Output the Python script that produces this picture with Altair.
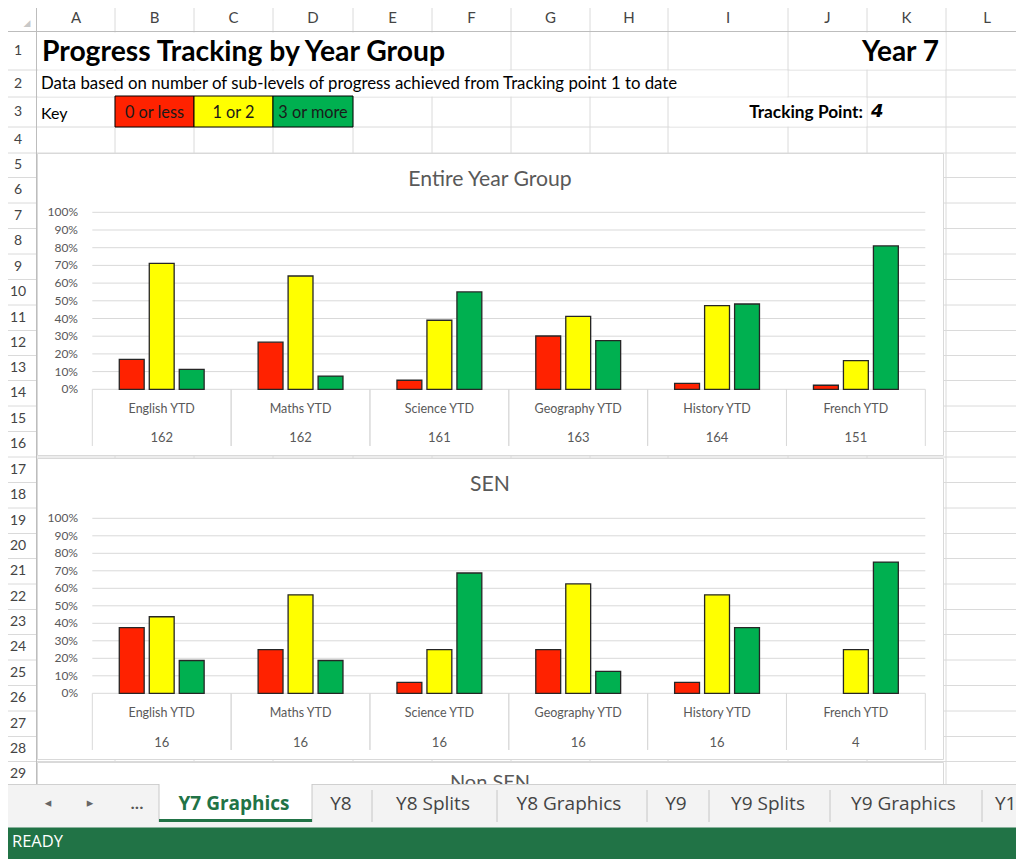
import altair as alt
import pandas as pd

# ---------------- data ----------------
subjects = ["English YTD", "Maths YTD", "Science YTD", "Geography YTD", "History YTD", "French YTD"]
categories = ["0 or less", "1 or 2", "3 or more"]
cat_colors = ["#FF2200", "#FFFF00", "#00B050"]

entire_low = [0.169, 0.266, 0.051, 0.301, 0.034, 0.023]
entire_mid = [0.712, 0.640, 0.390, 0.412, 0.473, 0.162]
entire_high = [0.113, 0.075, 0.550, 0.275, 0.482, 0.810]
entire_n = [162, 162, 161, 163, 164, 151]

sen_low = [0.375, 0.25, 0.0625, 0.25, 0.0625, 0.0]
sen_mid = [0.4375, 0.5625, 0.25, 0.625, 0.5625, 0.25]
sen_high = [0.1875, 0.1875, 0.6875, 0.125, 0.375, 0.75]
sen_n = [16, 16, 16, 16, 16, 4]

percent_ticks = [0.0, 0.1, 0.2, 0.3, 0.4, 0.5, 0.6, 0.7, 0.8, 0.9, 1.0]
column_letters = ["A", "B", "C", "D", "E", "F", "G", "H", "I", "J", "K", "L"]
row_numbers = list(range(1, 30))
tab_names = ["Y7 Graphics", "Y8", "Y8 Splits", "Y8 Graphics", "Y9", "Y9 Splits", "Y9 Graphics", "Y1"]

# ---------------- layout (screen pixels of the sheet) ----------------
M = 8  # page margin
FONT = "Lato"
UI_FONT = "Open Sans"
W, H = 1008, 851

col_edges = [37, 115, 194, 273, 353, 432, 511, 590, 668, 788, 867, 946, 1028]
row_centers = [51, 83.5, 112, 140, 165, 190, 216, 241, 267, 292, 318, 343, 368, 393, 419,
               444, 470, 495, 521, 546, 571, 597, 622, 647, 673, 698, 724, 749, 774]
row_edges = [31.5, 70, 97, 127, 153]
for i in range(4, 28):
    row_edges.append((row_centers[i] + row_centers[i + 1]) / 2)
row_edges.append(787)

X0, X1 = 92.3, 925.3  # category axis extent


def texts(items, size, color, weight="normal", align="center", font=FONT, style="normal"):
    df = pd.DataFrame([(x - M, y - M, s) for x, y, s in items], columns=["px", "py", "label"])
    return alt.Chart(df).mark_text(
        fontSize=size, color=color, fontWeight=weight, align=align, baseline="middle",
        font=font, fontStyle=style
    ).encode(
        x=alt.X("px:Q", scale=None, axis=None),
        y=alt.Y("py:Q", scale=None, axis=None),
        text="label:N",
    )


def segs(rows, color, width=1.0):
    df = pd.DataFrame([(a - M, b - M, c - M, d - M) for a, b, c, d in rows],
                      columns=["xa", "ya", "xb", "yb"])
    return alt.Chart(df).mark_rule(color=color, strokeWidth=width).encode(
        x=alt.X("xa:Q", scale=None, axis=None), x2="xb:Q",
        y=alt.Y("ya:Q", scale=None, axis=None), y2="yb:Q",
    )


one = pd.DataFrame({"k": [0]})


def box(x1, x2, y1, y2, fill, stroke=None, sw=1.0):
    kw = {"fill": fill}
    if stroke:
        kw.update(stroke=stroke, strokeWidth=sw)
    else:
        kw.update(strokeWidth=0)
    return alt.Chart(one).mark_rect(**kw).encode(
        x=alt.value(x1 - M), x2=alt.value(x2 - M), y=alt.value(y1 - M), y2=alt.value(y2 - M)
    )


def panel(low, mid, high, counts, y0, y100, lab_y, cnt_y, div_bottom):
    rows = []
    for i, s in enumerate(subjects):
        for cat, vals in zip(categories, [low, mid, high]):
            rows.append({"subject": s, "cat": cat, "val": vals[i]})
    df = pd.DataFrame(rows)
    yscale = alt.Scale(domain=[0, 1], range=[y0 - M, y100 - M], nice=False)
    xscale = alt.Scale(domain=subjects, range=[X0 - M, X1 - M], paddingInner=0, paddingOuter=0)
    ticks = pd.DataFrame({"t": percent_ticks})
    grid = alt.Chart(ticks).mark_rule(color="#d9d9d9", strokeWidth=1).encode(
        y=alt.Y("t:Q", scale=yscale, axis=None),
        x=alt.value(X0 - M), x2=alt.value(X1 - M),
    )
    ylab = alt.Chart(ticks).mark_text(
        align="right", baseline="middle", fontSize=12, color="#595959", font=FONT
    ).encode(
        y=alt.Y("t:Q", scale=yscale, axis=None),
        x=alt.value(78 - M),
        text=alt.Text("t:Q", format=".0%"),
    )
    bars = alt.Chart(df).transform_filter("datum.val > 0").mark_bar(
        stroke="#262626", strokeWidth=1.3
    ).encode(
        x=alt.X("subject:N", scale=xscale, sort=subjects, axis=None),
        xOffset=alt.XOffset("cat:N", scale=alt.Scale(domain=categories, paddingInner=0.17,
                                                     paddingOuter=0.9), sort=categories),
        y=alt.Y("val:Q", scale=yscale, axis=None),
        color=alt.Color("cat:N", scale=alt.Scale(domain=categories, range=cat_colors), legend=None),
    )
    sub = pd.DataFrame({"subject": subjects, "n": [str(c) for c in counts]})
    div0 = alt.Chart(sub).mark_rule(color="#d9d9d9").encode(
        x=alt.X("subject:N", scale=xscale, sort=subjects, axis=None, bandPosition=0),
        y=alt.value(y0 - M), y2=alt.value(div_bottom - M),
    )
    div1 = alt.Chart(sub).mark_rule(color="#d9d9d9").encode(
        x=alt.X("subject:N", scale=xscale, sort=subjects, axis=None, bandPosition=1),
        y=alt.value(y0 - M), y2=alt.value(div_bottom - M),
    )
    labs = alt.Chart(sub).mark_text(fontSize=12.5, color="#595959", font=FONT, baseline="middle").encode(
        x=alt.X("subject:N", scale=xscale, sort=subjects, axis=None),
        y=alt.value(lab_y - M),
        text="subject:N",
    )
    cnts = alt.Chart(sub).mark_text(fontSize=13, color="#595959", font=FONT, baseline="middle").encode(
        x=alt.X("subject:N", scale=xscale, sort=subjects, axis=None),
        y=alt.value(cnt_y - M),
        text="n:N",
    )
    return alt.layer(grid, div0, div1, bars, ylab, labs, cnts)


layers = []

# ---- sheet grid ----
GRID = "#dadada"
vlines = [(x, 4, x, 787) for x in col_edges[1:-1]]
hlines = []
for i, y in enumerate(row_edges[1:]):
    hlines.append((0, y, 1024, y))
layers.append(segs(vlines + hlines, GRID))
# hide gridlines where header text overflows
layers.append(box(38, 509.5, 32.5, 69.5, "#ffffff"))
layers.append(box(789.5, 945.5, 32.5, 69.5, "#ffffff"))
layers.append(box(38, 787.5, 70.5, 96.5, "#ffffff"))
layers.append(box(669.5, 866.5, 97.5, 126.5, "#ffffff"))
# header borders
layers.append(segs([(0, 31.5, 1024, 31.5), (36.5, 0, 36.5, 787)], "#bdbdbd"))
layers.append(texts([(27, 23, "◢")], 9, "#c8c8c8", font="DejaVu Sans"))
layers.append(texts([((col_edges[i] + col_edges[i + 1]) / 2, 18, column_letters[i])
                     for i in range(len(column_letters))], 15, "#444444"))
layers.append(texts([(18, row_centers[i], str(n)) for i, n in enumerate(row_numbers)], 14, "#444444"))

# ---- header content ----
layers.append(texts([(42, 53, "Progress Tracking by Year Group")], 28.3, "#000000", weight="bold", align="left"))
layers.append(texts([(939, 53, "Year 7")], 28, "#000000", weight="bold", align="right"))
layers.append(texts([(41, 84, "Data based on number of sub-levels of progress achieved from Tracking point 1 to date")],
                    16.8, "#000000", align="left"))
layers.append(texts([(41, 114, "Key")], 16, "#000000", align="left"))
key_edges = [115, 194, 273, 353]
for i, cat in enumerate(categories):
    layers.append(box(key_edges[i], key_edges[i + 1], 96, 127, cat_colors[i], stroke="#000000", sw=1))
layers.append(texts([((key_edges[i] + key_edges[i + 1]) / 2, 113, cat) for i, cat in enumerate(categories)],
                    16.3, "#1a1a1a"))
layers.append(texts([(863, 113, "Tracking Point:")], 17.3, "#000000", weight="bold", align="right"))
layers.append(texts([(871, 112, "4")], 18, "#000000", weight="bold", align="left", style="italic",
                    font="DejaVu Sans"))

# ---- chart frames ----
layers.append(box(37.5, 943.5, 153.5, 455.5, "#ffffff", stroke="#d9d9d9"))
layers.append(box(37.5, 943.5, 458.5, 759.5, "#ffffff", stroke="#d9d9d9"))
layers.append(box(37.5, 943.5, 762.5, 800, "#ffffff", stroke="#d9d9d9"))

# ---- charts ----
layers.append(panel(entire_low, entire_mid, entire_high, entire_n, 389.3, 212.3, 408.5, 438, 446))
layers.append(panel(sen_low, sen_mid, sen_high, sen_n, 693.3, 518.3, 712.5, 742.5, 750))
layers.append(texts([(490, 179.5, "Entire Year Group"), (490, 485, "SEN")], 21.2, "#595959"))
layers.append(texts([(490, 783, "Non SEN")], 20, "#595959"))

# ---- sheet tabs ----
layers.append(box(0, 1030, 784, 828, "#f3f3f3"))
layers.append(segs([(0, 784.5, 1030, 784.5)], "#d0d0d0"))
layers.append(box(159, 312, 784, 822, "#ffffff"))
layers.append(segs([(159, 784, 159, 822), (312, 784, 312, 822)], "#c8c8c8"))
layers.append(box(159, 312, 819, 822, "#217346"))
layers.append(segs([(x, 790, x, 822) for x in [372, 497, 647, 709, 830, 982]], "#c6c6c6"))
layers.append(texts([(48, 803, "◂"), (90, 803, "▸")], 13, "#666666", font="DejaVu Sans"))
layers.append(texts([(137, 804, "...")], 15, "#555555", weight="bold", font=UI_FONT))
layers.append(texts([(234, 804, tab_names[0])], 19, "#217346", weight="bold", font=UI_FONT))
tab_centers = [341, 433, 569, 676, 768, 903.5]
layers.append(texts([(tab_centers[i], 804, tab_names[i + 1]) for i in range(6)], 19, "#444444", font=UI_FONT))
layers.append(texts([(995, 804, tab_names[7])], 19, "#444444", font=UI_FONT, align="left"))

# ---- status bar ----
layers.append(box(0, 1030, 827.5, 870, "#217346"))
layers.append(texts([(12, 842, "READY")], 16.5, "#ffffff", font=UI_FONT, align="left"))

chart = alt.layer(*layers).resolve_scale(
    x="independent", y="independent", color="independent", xOffset="independent"
).properties(
    width=W, height=H, padding=0, autosize=alt.AutoSizeParams(type="none")
).configure_view(stroke=None)

chart.save("out.html", embed_options={"renderer": "svg", "actions": False})
